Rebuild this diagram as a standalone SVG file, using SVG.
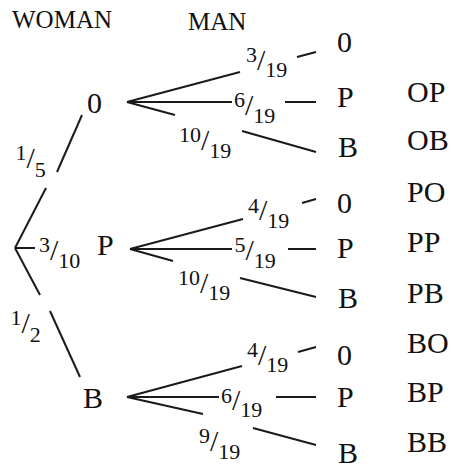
<svg xmlns="http://www.w3.org/2000/svg" width="451" height="469" viewBox="0 0 451 469">
<style>
text{font-family:"Liberation Serif","Times New Roman",serif;fill:#111}
.h{font-size:25px}
.L{font-size:30px}
.n{font-size:22px}
.s{font-size:30px}
.c line{stroke:#1a1a1a;stroke-width:2;stroke-linecap:butt}
</style>
<rect width="451" height="469" fill="#fff"/>
<g id="headers">
<text class="h" x="12" y="28">WOMAN</text>
<text class="h" x="188" y="30">MAN</text>
</g>
<g class="c" id="connectors">
<line x1="15" y1="248" x2="46" y2="188"/>
<line x1="57" y1="172" x2="82" y2="115"/>
<line x1="15" y1="248" x2="35" y2="248"/>
<line x1="15" y1="248" x2="40" y2="295"/>
<line x1="50" y1="311" x2="80" y2="377"/>
<line x1="127" y1="102" x2="240" y2="72"/>
<line x1="297" y1="57" x2="316" y2="52"/>
<line x1="127" y1="102" x2="232" y2="102"/>
<line x1="285" y1="102" x2="316" y2="102"/>
<line x1="127" y1="102" x2="175" y2="115"/>
<line x1="242" y1="131" x2="316" y2="152"/>
<line x1="130" y1="249" x2="243" y2="219"/>
<line x1="302" y1="203" x2="316" y2="199"/>
<line x1="130" y1="249" x2="232" y2="249"/>
<line x1="288" y1="249" x2="316" y2="249"/>
<line x1="130" y1="249" x2="173" y2="261"/>
<line x1="240" y1="278" x2="316" y2="297"/>
<line x1="127" y1="397" x2="242" y2="366"/>
<line x1="298" y1="352" x2="316" y2="347"/>
<line x1="127" y1="397" x2="219" y2="397"/>
<line x1="276" y1="397" x2="316" y2="397"/>
<line x1="127" y1="397" x2="203" y2="414"/>
<line x1="253" y1="428" x2="316" y2="445"/>
</g>
<g id="edge-labels">
<text x="15.5" y="160"><tspan class="n">1</tspan><tspan class="s" dy="8">/</tspan><tspan class="n" dy="9">5</tspan></text>
<text x="39" y="252"><tspan class="n">3</tspan><tspan class="s" dy="8">/</tspan><tspan class="n" dy="8">10</tspan></text>
<text x="10.5" y="325"><tspan class="n">1</tspan><tspan class="s" dy="8">/</tspan><tspan class="n" dy="9">2</tspan></text>
<text x="246" y="62"><tspan class="n">3</tspan><tspan class="s" dy="8">/</tspan><tspan class="n" dy="7">19</tspan></text>
<text x="234" y="107"><tspan class="n">6</tspan><tspan class="s" dy="8">/</tspan><tspan class="n" dy="8">19</tspan></text>
<text x="179" y="142"><tspan class="n">10</tspan><tspan class="s" dy="8">/</tspan><tspan class="n" dy="8">19</tspan></text>
<text x="248" y="213"><tspan class="n">4</tspan><tspan class="s" dy="7">/</tspan><tspan class="n" dy="8">19</tspan></text>
<text x="234.5" y="252"><tspan class="n">5</tspan><tspan class="s" dy="8">/</tspan><tspan class="n" dy="8">19</tspan></text>
<text x="178" y="285"><tspan class="n">10</tspan><tspan class="s" dy="8">/</tspan><tspan class="n" dy="7">19</tspan></text>
<text x="247" y="357"><tspan class="n">4</tspan><tspan class="s" dy="8">/</tspan><tspan class="n" dy="7">19</tspan></text>
<text x="221" y="403"><tspan class="n">6</tspan><tspan class="s" dy="7">/</tspan><tspan class="n" dy="7">19</tspan></text>
<text x="199" y="443"><tspan class="n">9</tspan><tspan class="s" dy="8">/</tspan><tspan class="n" dy="8">19</tspan></text>
</g>
<g id="w-0"><text class="L" x="87" y="113">0</text></g>
<g id="w-P"><text class="L" x="97" y="255">P</text></g>
<g id="w-B"><text class="L" x="83" y="408">B</text></g>
<g id="m-0-0"><text class="L" x="337" y="52">0</text></g>
<g id="m-0-P"><text class="L" x="337" y="107">P</text></g>
<g id="m-0-B"><text class="L" x="338" y="157">B</text></g>
<g id="m-P-0"><text class="L" x="337" y="213">0</text></g>
<g id="m-P-P"><text class="L" x="337" y="258">P</text></g>
<g id="m-P-B"><text class="L" x="338" y="308">B</text></g>
<g id="m-B-0"><text class="L" x="337" y="365">0</text></g>
<g id="m-B-P"><text class="L" x="337" y="407">P</text></g>
<g id="m-B-B"><text class="L" x="338" y="463">B</text></g>
<g id="outcomes">
<g id="o-OP"><text class="L" x="407" y="102">OP</text></g>
<g id="o-OB"><text class="L" x="407" y="150">OB</text></g>
<g id="o-PO"><text class="L" x="407" y="202">PO</text></g>
<g id="o-PP"><text class="L" x="407" y="252">PP</text></g>
<g id="o-PB"><text class="L" x="407" y="303">PB</text></g>
<g id="o-BO"><text class="L" x="407" y="353">BO</text></g>
<g id="o-BP"><text class="L" x="407" y="402">BP</text></g>
<g id="o-BB"><text class="L" x="407" y="452">BB</text></g>
</g>
</svg>
